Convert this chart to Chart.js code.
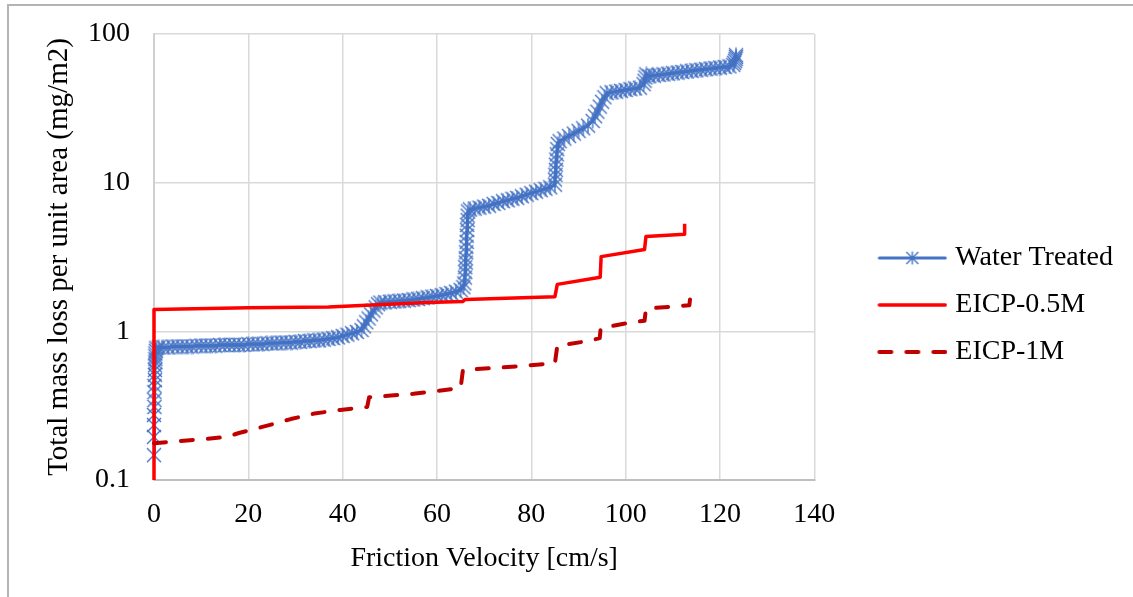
<!DOCTYPE html>
<html>
<head>
<meta charset="utf-8">
<title>Mass loss vs friction velocity</title>
<script src="https://cdn.jsdelivr.net/npm/chart.js@4.4.1/dist/chart.umd.min.js"></script>
<style>
  html, body { margin: 0; padding: 0; background: #fff; }
  #wrap { position: relative; width: 1133px; height: 597px; overflow: hidden; background: #fff; }
  #frame { position: absolute; left: 7px; top: 4px; width: 1200px; height: 700px;
           border-left: 2px solid #b4b4b4; border-top: 2px solid #b4b4b4; pointer-events: none; }
  canvas { position: absolute; left: 0; top: 0; }
</style>
</head>
<body>
<div id="wrap">
  <canvas id="chart" width="1133" height="597"></canvas>
  <div id="frame"></div>
</div>
<script>
// Series names
const seriesNames = ['Water Treated', 'EICP-0.5M', 'EICP-1M'];

// Water treated samples (friction velocity cm/s, mass loss mg/m2)
const waterX = [
  0, 0, 0, 0, 0.1, 0.1, 0.1, 0.1, 0.2, 0.2, 0.2, 0.2, 0.3, 0.3, 0.3, 0.3, 0.4, 0.5,
  1, 2, 3, 4, 5, 6, 7, 8, 9, 10, 11, 12, 13, 14, 15, 16, 17, 18, 19, 20,
  21, 22, 23, 24, 25, 26, 27, 28, 29, 30, 31, 32, 33, 34, 35, 36, 37, 38, 39, 40,
  41, 42, 43, 44, 44.5, 45, 45.5, 46, 46.5, 47, 47.5, 48,
  49, 50, 51, 52, 53, 54, 55, 56, 57, 58, 59, 60, 61, 62, 63, 64, 65, 65.6,
  65.8, 65.9, 66, 66, 66.1, 66.1, 66.2, 66.2, 66.3, 66.3, 66.4, 66.4, 66.5, 66.5, 66.6,
  67, 68, 69, 70, 71, 72, 73, 74, 75, 76, 77, 78, 79, 80, 81, 82, 83, 84,
  85, 85, 85.1, 85.2, 85.2, 85.3, 85.4, 85.5, 85.6,
  86, 87, 88, 89, 90, 91, 92,
  93, 93.5, 94, 94.5, 95, 95.5, 96,
  97, 98, 99, 100, 101, 102, 103,
  103.8, 104, 104.2, 104.4,
  105, 106, 107, 108, 109, 110, 111, 112, 113, 114, 115, 116, 117, 118, 119, 120, 121, 122,
  122.8, 123, 123.2, 123.3, 123.4, 123.4
];
const waterY = [
  0.147, 0.195, 0.234, 0.274, 0.31, 0.345, 0.39, 0.43, 0.47, 0.51, 0.55, 0.59, 0.62, 0.65, 0.68, 0.71, 0.74, 0.77,
  0.78, 0.78, 0.78, 0.79, 0.79, 0.79, 0.79, 0.79, 0.80, 0.80, 0.80, 0.80, 0.80, 0.81, 0.81, 0.81, 0.81, 0.81, 0.81, 0.82,
  0.82, 0.82, 0.82, 0.83, 0.83, 0.83, 0.84, 0.84, 0.84, 0.85, 0.85, 0.86, 0.86, 0.87, 0.87, 0.88, 0.89, 0.90, 0.91, 0.93,
  0.95, 0.97, 0.99, 1.02, 1.08, 1.15, 1.22, 1.30, 1.38, 1.45, 1.52, 1.56,
  1.57, 1.58, 1.59, 1.60, 1.61, 1.62, 1.64, 1.65, 1.67, 1.69, 1.71, 1.73, 1.75, 1.78, 1.81, 1.85, 1.90, 1.98,
  2.1, 2.3, 2.5, 2.7, 2.9, 3.1, 3.4, 3.7, 4.0, 4.4, 4.8, 5.2, 5.6, 6.0, 6.4,
  6.6, 6.7, 6.8, 6.9, 7.0, 7.2, 7.3, 7.5, 7.6, 7.8, 7.9, 8.1, 8.3, 8.5, 8.7, 8.9, 9.1, 9.3,
  9.7, 10.5, 11.3, 12.2, 13.2, 14.3, 15.5, 16.8, 18.2,
  19.0, 19.8, 20.6, 21.4, 22.3, 23.2, 24.2,
  26, 28, 30, 32.5, 35, 37.5, 40,
  40.5, 41, 41.5, 42, 42.5, 43, 43.5,
  46, 48.5, 51, 53.5,
  52, 52.5, 53, 53.5, 54, 54.5, 55, 55.5, 56, 56.5, 57, 57.5, 58, 58.5, 59, 59.5, 60, 60.5,
  62, 64, 66, 68, 70, 72
];

// EICP 0.5 M
const halfMolarX = [0, 0, 20, 37, 45, 58, 65.5, 66, 85, 85.5, 94.6, 94.8, 104, 104.3, 112.5, 112.5];
const halfMolarY = [0.1, 1.40, 1.44, 1.46, 1.50, 1.56, 1.59, 1.64, 1.71, 2.07, 2.31, 3.18, 3.55, 4.35, 4.5, 5.3];

// EICP 1 M
const oneMolarX = [0, 11, 15.5, 18, 24, 29, 34, 39.5, 45.2, 45.6, 55, 65, 65.5, 75, 85, 85.5, 92, 94.5, 94.7, 100, 104, 104.3, 113.5, 113.8];
const oneMolarY = [0.177, 0.189, 0.195, 0.207, 0.232, 0.257, 0.28, 0.296, 0.31, 0.36, 0.38, 0.415, 0.55, 0.575, 0.61, 0.80, 0.86, 0.90, 1.05, 1.13, 1.18, 1.42, 1.50, 1.81];

// Axis ticks
const yTickValues = [0.1, 1, 10, 100];
const xMin = 0, xMax = 140, xStep = 20;

const BLUE = '#4472C4';
const RED = '#FF0000';
const DARK_RED = '#C00000';
const FONT = 'Liberation Serif, Times New Roman, serif';

function toPoints(xs, ys) {
  return xs.map((x, i) => ({ x: x, y: ys[i] }));
}

// Excel-style star marker: X with a vertical bar
function starMarker(size, color) {
  const c = document.createElement('canvas');
  c.width = size; c.height = size;
  const g = c.getContext('2d');
  g.strokeStyle = color;
  g.lineWidth = 1.4;
  const m = size / 2, r = size / 2 - 1;
  g.beginPath();
  g.moveTo(m - r, m - r); g.lineTo(m + r, m + r);
  g.moveTo(m + r, m - r); g.lineTo(m - r, m + r);
  g.moveTo(m, 0.5); g.lineTo(m, size - 0.5);
  g.stroke();
  return c;
}

// Legend sample: the line sits in the right 70px of a wider canvas,
// so the legend box starts right at the plot edge
function legendSample(color, width, dash, marker) {
  const c = document.createElement('canvas');
  c.width = 120; c.height = 20;
  const g = c.getContext('2d');
  g.strokeStyle = color;
  g.lineWidth = width;
  g.lineCap = 'round';
  g.setLineDash(dash);
  g.beginPath();
  g.moveTo(52, 10); g.lineTo(118, 10);
  g.stroke();
  if (marker) g.drawImage(marker, 85 - marker.width / 2, 10 - marker.height / 2);
  return c;
}

const star = starMarker(16, BLUE);
const legendStar = starMarker(14, BLUE);
const samples = [
  legendSample(BLUE, 3, [], legendStar),
  legendSample(RED, 3.5, [], null),
  legendSample(DARK_RED, 4, [12, 15], null)
];

const ctx = document.getElementById('chart').getContext('2d');
new Chart(ctx, {
  type: 'scatter',
  data: {
    datasets: [{
      label: seriesNames[0],
      data: toPoints(waterX, waterY),
      showLine: true,
      borderColor: BLUE,
      borderWidth: 3,
      pointStyle: star,
      pointRadius: 8,
      order: 3,
      clip: false
    }, {
      label: seriesNames[1],
      data: toPoints(halfMolarX, halfMolarY),
      showLine: true,
      borderColor: RED,
      borderWidth: 3.5,
      borderJoinStyle: 'round',
      pointRadius: 0,
      order: 2,
      clip: false
    }, {
      label: seriesNames[2],
      data: toPoints(oneMolarX, oneMolarY),
      showLine: true,
      borderColor: DARK_RED,
      borderWidth: 4,
      borderDash: [12, 15],
      borderCapStyle: 'round',
      borderJoinStyle: 'round',
      pointRadius: 0,
      order: 1,
      clip: false
    }]
  },
  options: {
    responsive: false,
    animation: false,
    events: [],
    layout: { padding: { top: 34, right: 10, bottom: 21, left: 0 } },
    plugins: {
      tooltip: { enabled: false },
      legend: {
        position: 'right',
        maxWidth: 400,
        labels: {
          usePointStyle: true,
          pointStyleWidth: 108,
          padding: 19,
          color: '#000',
          font: { family: FONT, size: 28 },
          generateLabels: (chart) => chart.data.datasets.map((ds, i) => ({
            text: ds.label,
            pointStyle: samples[i],
            fillStyle: 'rgba(0,0,0,0)',
            strokeStyle: 'rgba(0,0,0,0)',
            lineWidth: 0,
            hidden: false,
            datasetIndex: i
          }))
        }
      }
    },
    scales: {
      x: {
        type: 'linear',
        min: xMin,
        max: xMax,
        afterFit: (s) => { s.height = 96; },
        grid: { color: '#d9d9d9', lineWidth: 1.5, drawTicks: false },
        border: { color: '#bfbfbf', width: 2 },
        ticks: {
          stepSize: xStep,
          padding: 18,
          color: '#000',
          font: { family: FONT, size: 28 }
        },
        title: {
          display: true,
          text: 'Friction Velocity [cm/s]',
          color: '#000',
          font: { family: FONT, size: 28, lineHeight: 1 },
          padding: { top: 0, bottom: 3 }
        }
      },
      y: {
        type: 'logarithmic',
        min: yTickValues[0],
        max: yTickValues[yTickValues.length - 1],
        afterFit: (s) => {
          s.width = 154;
          s.paddingTop = 0;
          s.paddingBottom = 0;
        },
        afterBuildTicks: (s) => { s.ticks = yTickValues.map(v => ({ value: v })); },
        grid: { color: '#d9d9d9', lineWidth: 1.5, drawTicks: false },
        border: { color: '#d0d0d0', width: 2 },
        ticks: {
          padding: 24,
          color: '#000',
          font: { family: FONT, size: 28 },
          callback: (v) => String(v)
        },
        title: {
          display: true,
          text: 'Total mass loss per unit area (mg/m2)',
          color: '#000',
          font: { family: FONT, size: 29, lineHeight: 1 },
          padding: { top: 45, bottom: 0 }
        }
      }
    }
  }
});
</script>
</body>
</html>
